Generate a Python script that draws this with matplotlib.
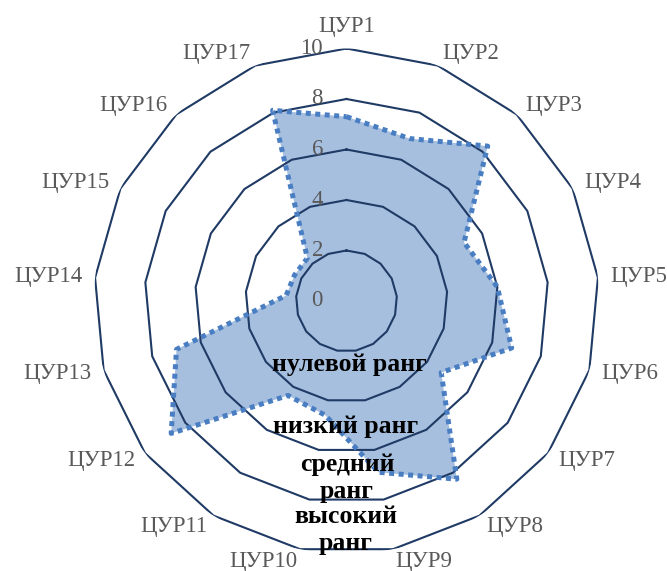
import numpy as np
import matplotlib.pyplot as plt

# ---------- data ----------
categories = ["ЦУР%d" % i for i in range(1, 18)]
values = [7.3, 6.9, 8.3, 5.2, 6.0, 6.8, 4.7, 8.3, 6.9, 4.6, 4.4, 8.7, 7.0, 2.4, 2.3, 2.3, 8.1]
ring_levels = [2, 4, 6, 8, 10]
tick_labels = ["0", "2", "4", "6", "8", "10"]
rank_labels = ["нулевой ранг", "низкий ранг", "средний\nранг", "высокий\nранг"]
rank_pos = [(349, 365), (346, 427), (347, 478), (346, 530)]  # pixel centres

grid_col = "#1F3A64"
fill_col = "#A6BFDF"
edge_col = "#4A7EC2"
lab_col = "#595959"
serif = ["Liberation Serif", "DejaVu Serif"]

W, H = 667, 571
fig = plt.figure(figsize=(W / 100, H / 100), dpi=100)
cx, cy, R = 346.5, 301, 252.5
ax = fig.add_axes([(cx - R) / W, (H - cy - R) / H, 2 * R / W, 2 * R / H], polar=True)
ax.set_theta_zero_location("N")
ax.set_theta_direction(-1)
ax.set_ylim(0, 10)
ax.grid(False)
ax.spines["polar"].set_visible(False)
ax.set_xticks([])
ax.set_yticks([])
ax.patch.set_alpha(0)

n = len(categories)
theta = np.arange(n) * 2 * np.pi / n
th_closed = np.append(theta, theta[0])

# series fill
v_closed = np.append(values, values[0])
ax.fill(th_closed, v_closed, color=fill_col, zorder=1, lw=0)

# polygon grid
for lv in ring_levels:
    ax.plot(th_closed, [lv] * (n + 1), color=grid_col, lw=1.5, zorder=2)

# dotted border
ax.plot(th_closed, v_closed, color=edge_col, lw=3.6, ls=(0, (1, 0.9)), zorder=3)

# radial tick labels
for i, t in enumerate(tick_labels):
    ax.annotate(t, xy=(0, i * 2), xytext=(-17, 0), textcoords="offset points",
                ha="right", va="center", fontsize=16.5, color=lab_col, family=serif, zorder=4)

# category labels
for th, lab in zip(theta, categories):
    s = np.sin(th)
    if abs(s) < 0.05:
        ax.text(th, 10.45, lab, ha="center", va="bottom", fontsize=16.5, color=lab_col, family=serif)
    else:
        ax.text(th, 10.5, lab, ha="left" if s > 0 else "right", va="center",
                fontsize=16.5, color=lab_col, family=serif)

# rank annotations
for txt, (px, py) in zip(rank_labels, rank_pos):
    fig.text(px / W, 1 - py / H, txt, ha="center", va="center", fontsize=18.5,
             fontweight="bold", family=serif, color="black", linespacing=1.2, zorder=5)

fig.savefig("out.png", dpi=100)
